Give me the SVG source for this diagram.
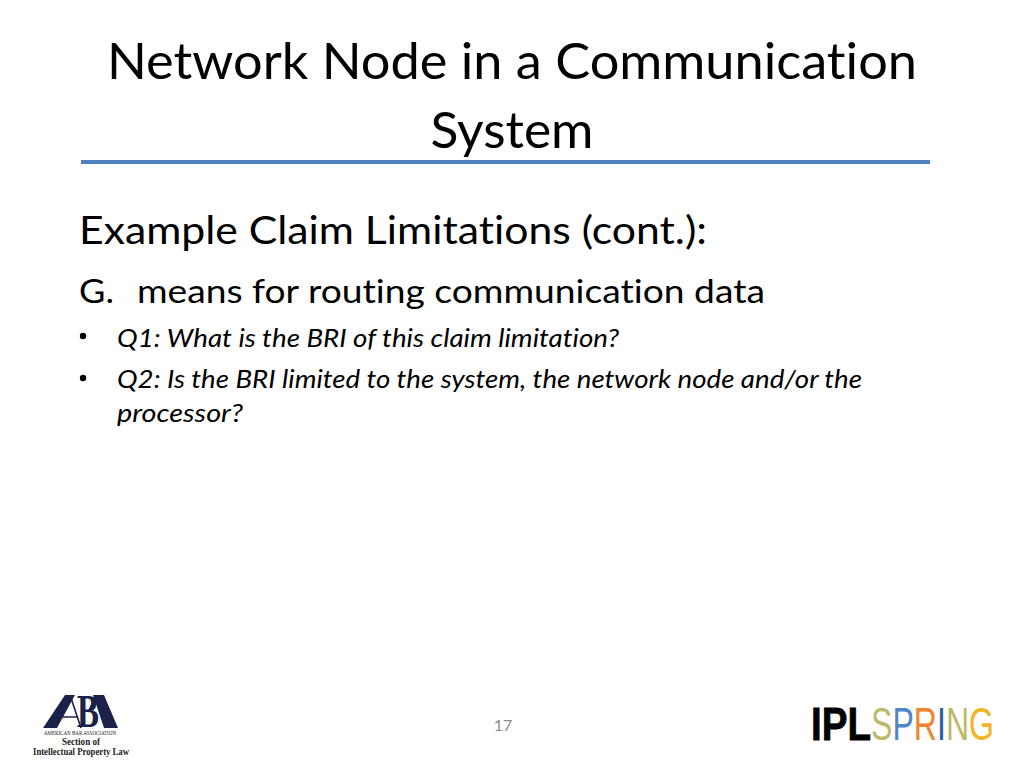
<svg xmlns="http://www.w3.org/2000/svg" width="1024" height="768" viewBox="0 0 1024 768">
<style>
text{font-family:"Lato","Open Sans","Liberation Sans",sans-serif;fill:#000;font-variant-ligatures:none}
.t{font-size:51px;text-anchor:middle}
.i{font-style:italic;font-size:26px}
.s{font-family:"Liberation Serif",serif;fill:#222;text-anchor:middle}
.l{font-family:"Liberation Sans",sans-serif;font-size:46px}
</style>
<rect width="1024" height="768" fill="#fff"/>
<g id="title">
<text class="t" x="512" y="79" textLength="810" lengthAdjust="spacingAndGlyphs">Network Node in a Communication</text>
<text class="t" x="512" y="148" textLength="163" lengthAdjust="spacingAndGlyphs">System</text>
<rect x="81" y="160" width="849" height="4" fill="#4f81bd"/>
</g>
<g id="body">
<text x="79" y="244" font-size="38" textLength="628" lengthAdjust="spacingAndGlyphs">Example Claim Limitations (cont.):</text>
<text x="79" y="303" font-size="33" textLength="35" lengthAdjust="spacingAndGlyphs">G.</text>
<text x="137" y="303" font-size="33" textLength="628" lengthAdjust="spacingAndGlyphs">means for routing communication data</text>
<circle cx="83" cy="336" r="3.2"/>
<text class="i" x="117" y="347" textLength="502" lengthAdjust="spacingAndGlyphs">Q1: What is the BRI of this claim limitation?</text>
<circle cx="83" cy="378" r="3.2"/>
<text class="i" x="117" y="388" textLength="745" lengthAdjust="spacingAndGlyphs">Q2: Is the BRI limited to the system, the network node and/or the</text>
<text class="i" x="117" y="422" textLength="126" lengthAdjust="spacingAndGlyphs">processor?</text>
</g>
<g id="page-number"><text x="503" y="731" font-size="16" text-anchor="middle" style="fill:#898989">17</text></g>
<g id="aba-logo">
<path d="M43 728H57L75 695H65ZM93 695H104L118 728H104Z" fill="#1b2149"/>
<path d="M70 695L81 728M52 717H77M96 697L88 712" stroke="#1b2149" stroke-width="1.6" fill="none"/>
<text class="s" x="88" y="727" font-size="46" font-weight="bold" style="fill:#1b2149" textLength="22" lengthAdjust="spacingAndGlyphs">B</text>
<text class="s" x="80" y="735" font-size="6" textLength="72" lengthAdjust="spacingAndGlyphs">AMERICAN BAR ASSOCIATION</text>
<text class="s" x="81" y="745" font-size="10.5" font-weight="bold" textLength="38" lengthAdjust="spacingAndGlyphs">Section of</text>
<text class="s" x="81" y="755" font-size="10.5" font-weight="bold" textLength="96" lengthAdjust="spacingAndGlyphs">Intellectual Property Law</text>
</g>
<g id="iplspring-logo">
<text class="l" x="811" y="740" font-weight="bold" textLength="60" lengthAdjust="spacingAndGlyphs" stroke="#000" stroke-width="0.8">IPL</text>
<text class="l" x="871" y="740" textLength="123" lengthAdjust="spacingAndGlyphs"><tspan style="fill:#bcb96a">S</tspan><tspan style="fill:#4f86c6">P</tspan><tspan style="fill:#ee8430">R</tspan><tspan style="fill:#2a5ca8">I</tspan><tspan style="fill:#bcb96a">N</tspan><tspan style="fill:#f6b221">G</tspan></text>
</g>
</svg>
